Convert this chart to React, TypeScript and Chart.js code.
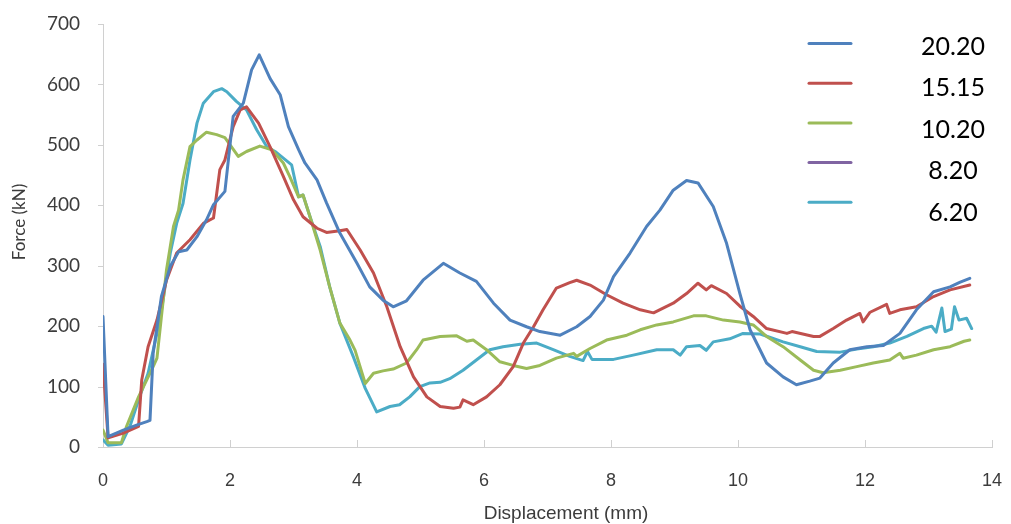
import { useEffect, useRef } from "react";
import { Chart, registerables } from "chart.js";

Chart.register(...registerables);

// ---- Data ----
const seriesLabels = ["20.20", "15.15", "10.20", "8.20", "6.20"];
const seriesColors = ["#4F81BD", "#C0504D", "#9BBB59", "#8064A2", "#4BACC6"];

const disp_20_20 = [0, 0.08, 0.32, 0.55, 0.69, 0.74, 0.79, 0.92, 1.06, 1.19, 1.32, 1.48, 1.63, 1.74, 1.92, 2.05, 2.21, 2.34, 2.46, 2.63, 2.79, 2.92, 3.08, 3.18, 3.37, 3.52, 3.73, 4.0, 4.2, 4.41, 4.57, 4.78, 5.04, 5.36, 5.62, 5.88, 6.15, 6.41, 6.67, 6.88, 7.2, 7.46, 7.67, 7.88, 8.04, 8.3, 8.56, 8.77, 8.98, 9.19, 9.37, 9.61, 9.82, 10.03, 10.19, 10.45, 10.71, 10.92, 11.13, 11.29, 11.5, 11.76, 12.03, 12.29, 12.55, 12.81, 13.08, 13.34, 13.5, 13.65];
const force_20_20 = [216, 17, 28, 37, 42, 44, 155, 249, 299, 323, 326, 348, 376, 401, 423, 547, 569, 624, 649, 610, 583, 530, 492, 470, 442, 404, 354, 304, 265, 243, 232, 242, 276, 304, 288, 274, 238, 210, 199, 191, 185, 199, 216, 243, 282, 321, 365, 392, 425, 441, 437, 398, 337, 254, 194, 139, 116, 103, 109, 114, 139, 161, 166, 168, 188, 227, 257, 265, 273, 279];

const disp_15_15 = [0, 0.08, 0.32, 0.56, 0.61, 0.71, 0.85, 1.0, 1.16, 1.37, 1.58, 1.74, 1.84, 1.92, 2.05, 2.16, 2.26, 2.45, 2.63, 2.84, 3.0, 3.15, 3.37, 3.52, 3.73, 3.84, 4.05, 4.26, 4.47, 4.68, 4.89, 5.1, 5.31, 5.52, 5.62, 5.67, 5.83, 6.04, 6.25, 6.46, 6.62, 6.78, 6.93, 7.14, 7.35, 7.46, 7.67, 7.93, 8.19, 8.46, 8.67, 8.98, 9.19, 9.37, 9.5, 9.58, 9.82, 10.03, 10.24, 10.45, 10.77, 10.85, 11.19, 11.29, 11.5, 11.71, 11.92, 11.97, 12.08, 12.34, 12.39, 12.55, 12.81, 13.08, 13.34, 13.65];
const force_15_15 = [137, 15, 23, 34, 111, 166, 210, 276, 321, 343, 370, 379, 459, 475, 530, 558, 563, 536, 497, 448, 409, 381, 362, 355, 358, 360, 326, 288, 232, 166, 116, 83, 67, 64, 66, 78, 70, 83, 103, 133, 172, 199, 227, 263, 272, 276, 268, 252, 238, 227, 222, 238, 254, 271, 260, 267, 254, 233, 216, 196, 188, 191, 183, 183, 196, 210, 221, 207, 223, 236, 221, 227, 232, 249, 260, 268];

const disp_10_20 = [0, 0.08, 0.29, 0.37, 0.56, 0.79, 0.85, 0.92, 1.0, 1.11, 1.19, 1.26, 1.37, 1.48, 1.63, 1.79, 1.92, 2.13, 2.26, 2.47, 2.66, 2.84, 2.94, 3.08, 3.15, 3.26, 3.42, 3.57, 3.73, 3.89, 3.97, 4.13, 4.26, 4.41, 4.57, 4.78, 4.94, 5.04, 5.31, 5.57, 5.73, 5.83, 6.04, 6.25, 6.46, 6.67, 6.88, 7.14, 7.41, 7.46, 7.67, 7.93, 8.25, 8.46, 8.72, 8.98, 9.3, 9.5, 9.77, 10.03, 10.24, 10.45, 10.71, 10.98, 11.19, 11.34, 11.61, 11.87, 12.13, 12.39, 12.55, 12.6, 12.81, 13.08, 13.34, 13.56, 13.65];
const force_10_20 = [28, 7, 7, 34, 83, 133, 147, 216, 293, 365, 392, 442, 497, 508, 521, 517, 512, 481, 489, 498, 492, 470, 448, 414, 417, 381, 326, 265, 205, 177, 160, 105, 122, 126, 129, 139, 161, 177, 183, 184, 175, 177, 161, 141, 135, 130, 135, 147, 155, 150, 163, 177, 185, 194, 202, 207, 217, 217, 210, 207, 202, 183, 166, 144, 127, 123, 127, 133, 139, 144, 155, 147, 152, 161, 166, 175, 177];

const disp_8_20: number[] = [];
const force_8_20: number[] = [];

const disp_6_20 = [0, 0.08, 0.29, 0.43, 0.56, 0.71, 0.85, 0.92, 1.06, 1.16, 1.26, 1.37, 1.48, 1.58, 1.74, 1.87, 1.95, 2.1, 2.26, 2.42, 2.58, 2.71, 2.84, 2.97, 3.08, 3.15, 3.26, 3.42, 3.57, 3.73, 3.94, 4.13, 4.31, 4.52, 4.67, 4.83, 4.99, 5.15, 5.31, 5.46, 5.67, 5.88, 6.09, 6.3, 6.57, 6.83, 7.09, 7.35, 7.56, 7.63, 7.7, 8.04, 8.35, 8.72, 8.98, 9.09, 9.19, 9.4, 9.5, 9.61, 9.87, 10.08, 10.35, 10.71, 10.98, 11.24, 11.61, 11.87, 12.13, 12.39, 12.66, 12.92, 13.05, 13.12, 13.21, 13.26, 13.36, 13.41, 13.48, 13.6, 13.68];
const force_6_20 = [12, 3, 5, 36, 78, 122, 188, 226, 321, 370, 403, 475, 536, 569, 588, 593, 588, 572, 558, 525, 497, 489, 478, 467, 414, 417, 381, 332, 265, 205, 150, 97, 58, 67, 70, 83, 100, 106, 107, 113, 127, 144, 161, 166, 170, 172, 161, 150, 143, 158, 145, 145, 152, 161, 161, 152, 166, 168, 160, 174, 179, 188, 187, 174, 166, 158, 157, 162, 166, 172, 183, 196, 200, 190, 230, 191, 195, 232, 210, 213, 196];

const xTickValues = [0, 2, 4, 6, 8, 10, 12, 14];
const yTickValues = [0, 100, 200, 300, 400, 500, 600, 700];
const xTitle = "Displacement (mm)";
const yTitle = "Force (kN)";

const seriesDisp = [disp_20_20, disp_15_15, disp_10_20, disp_8_20, disp_6_20];
const seriesForce = [force_20_20, force_15_15, force_10_20, force_8_20, force_6_20];

const AXIS_COLOR = "#d0d0d0";
const TEXT_COLOR = "#3c3c3c";

const decorPlugin = {
  id: "decor",
  beforeDatasetsDraw(chart: any) {
    const { ctx, chartArea, scales } = chart;
    ctx.save();
    ctx.strokeStyle = AXIS_COLOR;
    ctx.lineWidth = 1;
    xTickValues.forEach((v) => {
      const px = Math.round(scales.x.getPixelForValue(v)) + 0.5;
      ctx.beginPath();
      ctx.moveTo(px, chartArea.bottom - 7);
      ctx.lineTo(px, chartArea.bottom);
      ctx.stroke();
    });
    yTickValues.forEach((v) => {
      const py = Math.round(scales.y.getPixelForValue(v)) + 0.5;
      ctx.beginPath();
      ctx.moveTo(chartArea.left - 5, py);
      ctx.lineTo(chartArea.left, py);
      ctx.stroke();
    });
    ctx.restore();
  },
  afterDraw(chart: any) {
    const { ctx } = chart;
    ctx.save();
    // axis titles
    ctx.fillStyle = TEXT_COLOR;
    ctx.textAlign = "center";
    ctx.textBaseline = "middle";
    ctx.font = "19px 'Liberation Sans', Arial, sans-serif";
    ctx.fillText(xTitle, 566, 514);
    ctx.save();
    ctx.translate(20, 222);
    ctx.rotate(-Math.PI / 2);
    ctx.font = "17px Lato, sans-serif";
    ctx.fillText(yTitle, 0, 0);
    ctx.restore();
    // legend
    chart.data.datasets.forEach((ds: any, i: number) => {
      const ly = 43.5 + 39.7 * i;
      ctx.strokeStyle = ds.borderColor;
      ctx.lineWidth = 3;
      ctx.lineCap = "round";
      ctx.beginPath();
      ctx.moveTo(809, ly);
      ctx.lineTo(851, ly);
      ctx.stroke();
      ctx.fillStyle = "#000000";
      ctx.font = "25px Lato, sans-serif";
      ctx.textAlign = "center";
      ctx.textBaseline = "middle";
      ctx.fillText(ds.label, 953, 47 + 41.4 * i);
    });
    ctx.restore();
  },
};

export default function App() {
  const canvasRef = useRef<HTMLCanvasElement | null>(null);

  useEffect(() => {
    if (!canvasRef.current) return;
    const datasets = seriesLabels.map((label, i) => ({
      label,
      data: seriesDisp[i].map((x, j) => ({ x, y: seriesForce[i][j] })),
      borderColor: seriesColors[i],
      backgroundColor: seriesColors[i],
      borderWidth: 3,
      pointRadius: 0,
      tension: 0,
      fill: false,
    }));
    const chart = new Chart(canvasRef.current, {
      type: "line",
      data: { datasets },
      plugins: [decorPlugin],
      options: {
        animation: false,
        responsive: false,
        devicePixelRatio: 1,
        layout: { padding: { left: 0, right: 19, top: 24, bottom: 0 } },
        plugins: { legend: { display: false }, tooltip: { enabled: false } },
        elements: { point: { radius: 0 }, line: { borderJoinStyle: "round", borderCapStyle: "round" } },
        scales: {
          x: {
            type: "linear",
            min: 0,
            max: 14,
            afterBuildTicks: (s: any) => {
              s.ticks = xTickValues.map((v) => ({ value: v }));
            },
            ticks: {
              padding: 0,
              maxRotation: 0,
              autoSkip: false,
              color: TEXT_COLOR,
              font: { family: "'Liberation Sans', Arial, sans-serif", size: 18 },
            },
            grid: { display: true, drawOnChartArea: false, drawTicks: true, tickLength: 23, color: "rgba(0,0,0,0)" },
            border: { display: true, color: AXIS_COLOR, width: 1 },
            afterFit: (s: any) => {
              s.height = 77;
            },
          },
          y: {
            type: "linear",
            min: 0,
            max: 700,
            afterBuildTicks: (s: any) => {
              s.ticks = yTickValues.map((v) => ({ value: v }));
            },
            ticks: {
              padding: 0,
              color: TEXT_COLOR,
              font: { family: "Lato, sans-serif", size: 19 },
            },
            grid: { display: true, drawOnChartArea: false, drawTicks: true, tickLength: 23, color: "rgba(0,0,0,0)" },
            border: { display: true, color: AXIS_COLOR, width: 1 },
            afterFit: (s: any) => {
              s.width = 103;
            },
          },
        },
      } as any,
    });
    return () => chart.destroy();
  }, []);

  return (
    <div style={{ position: "fixed", left: 0, top: 0, width: 1011, height: 524, background: "#fff" }}>
      <canvas ref={canvasRef} width={1011} height={524} style={{ display: "block", width: 1011, height: 524 }} />
    </div>
  );
}
